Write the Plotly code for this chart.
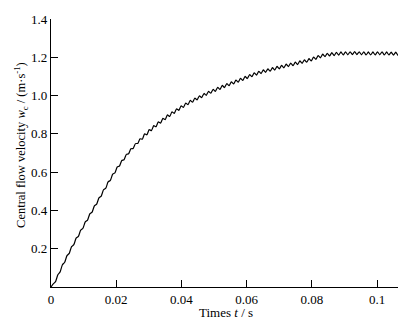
import plotly.graph_objects as go

# Central flow velocity (m/s), sampled every 0.0007 s (peaks/troughs of the ripple)
t_step = 0.0007
velocity = [
    0.000, 0.016, 0.028, 0.064, 0.079, 0.116, 0.129, 0.164, 0.176, 0.211,
    0.221, 0.255, 0.264, 0.297, 0.307, 0.340, 0.349, 0.382, 0.391, 0.424,
    0.433, 0.466, 0.475, 0.508, 0.516, 0.549, 0.557, 0.589, 0.596, 0.627,
    0.632, 0.661, 0.665, 0.693, 0.696, 0.722, 0.724, 0.749, 0.750, 0.774,
    0.772, 0.800, 0.795, 0.822, 0.817, 0.843, 0.837, 0.863, 0.856, 0.881,
    0.874, 0.899, 0.891, 0.915, 0.907, 0.931, 0.923, 0.947, 0.938, 0.961,
    0.952, 0.975, 0.965, 0.987, 0.977, 0.999, 0.989, 1.011, 1.001, 1.022,
    1.012, 1.033, 1.022, 1.043, 1.032, 1.053, 1.042, 1.063, 1.052, 1.072,
    1.061, 1.081, 1.070, 1.090, 1.079, 1.100, 1.089, 1.110, 1.099, 1.119,
    1.107, 1.127, 1.115, 1.134, 1.121, 1.140, 1.127, 1.146, 1.133, 1.152,
    1.139, 1.158, 1.145, 1.164, 1.151, 1.170, 1.156, 1.175, 1.162, 1.181,
    1.168, 1.187, 1.174, 1.193, 1.181, 1.201, 1.189, 1.209, 1.197, 1.216,
    1.203, 1.221, 1.207, 1.224, 1.209, 1.226, 1.211, 1.228, 1.212, 1.229,
    1.213, 1.229, 1.214, 1.230, 1.214, 1.229, 1.213, 1.229, 1.212, 1.228,
    1.212, 1.228, 1.212, 1.229, 1.213, 1.229, 1.212, 1.228, 1.212, 1.227,
    1.211, 1.227, 1.210, 1.226,
]
times = [round(i * t_step, 5) for i in range(len(velocity))]

x_ticks = [0, 0.02, 0.04, 0.06, 0.08, 0.1]
x_tick_labels = ["0", "0.02", "0.04", "0.06", "0.08", "0.1"]
y_ticks = [0.2, 0.4, 0.6, 0.8, 1.0, 1.2, 1.4]
y_tick_labels = ["0.2", "0.4", "0.6", "0.8", "1.0", "1.2", "1.4"]

font = dict(family="Liberation Serif", size=13, color="black")
title_font = dict(family="Liberation Serif", size=12.5, color="black")

fig = go.Figure()
fig.add_trace(go.Scatter(
    x=times, y=velocity, mode="lines",
    line=dict(color="black", width=1.2, shape="spline", smoothing=0.5),
    hoverinfo="skip", showlegend=False,
))

axis_common = dict(
    showgrid=False, zeroline=False, showline=True, linecolor="black", linewidth=1.3,
    ticks="inside", ticklen=7, tickwidth=1.3, tickcolor="black", tickfont=font,
    automargin=False,
)
fig.update_xaxes(range=[0, 0.107], tickmode="array", tickvals=x_ticks,
                 ticktext=x_tick_labels, **axis_common)
fig.update_yaxes(range=[0, 1.4], tickmode="array", tickvals=y_ticks,
                 ticktext=y_tick_labels, **axis_common)

fig.add_annotation(text="Times <i>t</i> / s", xref="paper", yref="paper",
                   x=0.5, y=-0.097, xanchor="center", yanchor="middle",
                   showarrow=False, font=font)
fig.add_annotation(text="Central flow velocity <i>w</i><sub>c</sub> / (m·s<sup>-1</sup>)",
                   xref="paper", yref="paper", x=-0.086, y=0.53,
                   xanchor="center", yanchor="middle", textangle=-90,
                   showarrow=False, font=title_font)

# page body adds an 8 px offset; size the figure so it ends at the window edge
fig.update_layout(
    width=398, height=312,
    margin=dict(l=43, r=6, t=11, b=33),
    paper_bgcolor="white", plot_bgcolor="white", font=font,
)
fig.write_html("out.html")
